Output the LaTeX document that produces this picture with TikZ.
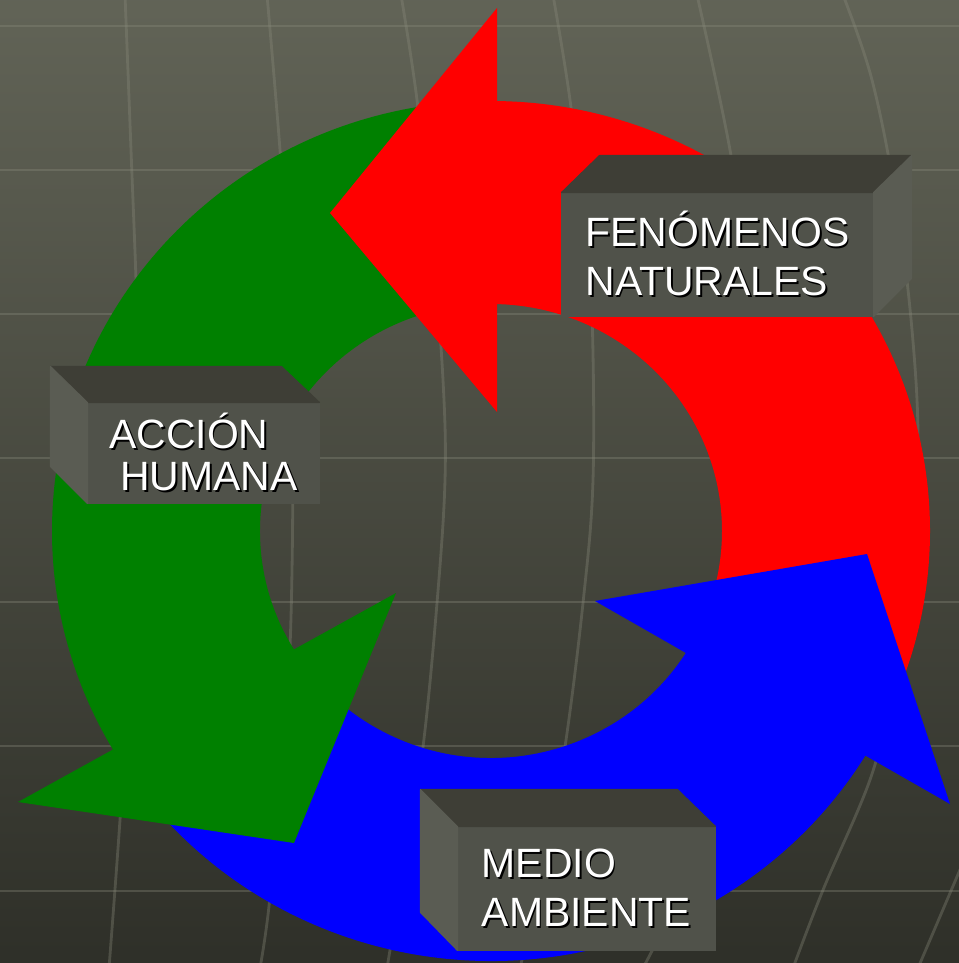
\documentclass[tikz,border=0pt]{standalone}
\usepackage{fontspec}
\setmainfont{Liberation Sans}
\usepackage{tikz}
\usetikzlibrary{shapes,positioning}
\definecolor{bg-top}{HTML}{626457}
\definecolor{bg-bottom}{HTML}{2E2F28}
\definecolor{grid-line}{HTML}{8A8B7C}
\definecolor{arrow-green}{HTML}{008000}
\definecolor{box-top}{HTML}{3E3E36}
\definecolor{box-front}{HTML}{50524A}
\definecolor{box-side}{HTML}{5A5C53}
\newcommand{\shd}[1]{\rlap{\kern1pt\raisebox{-1pt}{\color{black}#1}}#1}

\begin{document}
\begin{tikzpicture}[x=0.02cm, y=-0.02cm,
  gridline/.style={grid-line, opacity=0.35, line width=1.6pt},
  boxfront/.style={fill=box-front, draw=box-front, line width=0.6pt, text=white, align=left,
    inner sep=0pt, font=\fontsize{23.3}{27.9}\selectfont},
  boxface/.style={fill=#1, draw=#1, line width=0.6pt, line join=round}]
% background and grid
\useasboundingbox (0,0) rectangle (959,963);
\shade[top color=bg-top, bottom color=bg-bottom] (-10,-10) rectangle (969,973);
\foreach \y in {26,170,314,458,602,746,891}
  \draw[gridline] (-5,\y) -- (964,\y);
\draw[gridline] plot [smooth, tension=0.6] coordinates {(125,-5) (131,150) (137,313) (139,460) (133,620) (120,820) (109,968)};
\draw[gridline] plot [smooth, tension=0.6] coordinates {(267,-5) (280,150) (291,313) (293,460) (290,647) (280,780) (269,906) (260,968)};
\draw[gridline] plot [smooth, tension=0.6] coordinates {(401,-5) (417,100) (433,250) (443,380) (445,480) (437,603) (423,747) (405,860) (387,968)};
\draw[gridline] plot [smooth, tension=0.6] coordinates {(553,-5) (570,100) (585,230) (592,313) (593,480) (583,603) (565,747) (545,860) (520,968)};
\draw[gridline] plot [smooth, tension=0.6] coordinates {(697,-5) (730,150) (752,300) (760,450) (752,600) (730,740) (695,850) (667,920) (643,968)};
\draw[gridline] plot [smooth, tension=0.6] coordinates {(843,-5) (872,80) (896,200) (912,330) (918,450) (910,580) (893,680) (872,774) (823,890) (793,968)};
\draw[gridline] (965,858) -- (918,968);

% arrow bodies
\begin{scope}[shift={(491,531)}]
\fill[red] (25:439 and 430) arc[start angle=25, end angle=-90, x radius=439, y radius=430]
  -- (-90:231 and 227) arc[start angle=-90, end angle=25, x radius=231, y radius=227] -- cycle;
\fill[arrow-green] (-90:439 and 430) arc[start angle=-90, end angle=-213, x radius=439, y radius=430]
  -- (-213:231 and 227) arc[start angle=-213, end angle=-90, x radius=231, y radius=227] -- cycle;
\fill[blue] (145:439 and 430) arc[start angle=145, end angle=29, x radius=439, y radius=430]
  -- (29:231 and 227) arc[start angle=29, end angle=145, x radius=231, y radius=227] -- cycle;
\end{scope}

% arrow heads
\fill[red] (497,8) -- (330,213) -- (497,412) -- cycle;
\fill[arrow-green] (18,802) -- (294,843) -- (396,593) -- cycle;
\fill[blue] (595,601) -- (867,554) -- (950,804) -- cycle;

% boxes
\node[boxfront, minimum width=311*0.02cm, minimum height=123*0.02cm] (fen) at (717.5,254.5)
  {\shd{FENÓMENOS}\\\shd{NATURALES}};
\filldraw[boxface=box-top] (fen.north west) -- ++(38,-37) -- ++(311,0) -- (fen.north east) -- cycle;
\filldraw[boxface=box-side] (fen.north east) -- ++(38,-37) -- ++(0,123) -- (fen.south east) -- cycle;

\node[boxfront, minimum width=231*0.02cm, minimum height=100*0.02cm,
  font=\fontsize{23.3}{23.8}\selectfont] (acc) at (203.5,453)
  {\shd{ACCIÓN}\\\hspace*{0.22cm}\shd{HUMANA}};
\filldraw[boxface=box-top] (acc.north west) -- ++(-37,-36) -- ++(231,0) -- (acc.north east) -- cycle;
\filldraw[boxface=box-side] (acc.north west) -- ++(-37,-36) -- ++(0,100) -- (acc.south west) -- cycle;

\node[boxfront, minimum width=257*0.02cm, minimum height=123*0.02cm] (med) at (586.5,888.5)
  {\shd{MEDIO}\\\shd{AMBIENTE}};
\filldraw[boxface=box-top] (med.north west) -- ++(-37,-37) -- ++(257,0) -- (med.north east) -- cycle;
\filldraw[boxface=box-side] (med.north west) -- ++(-37,-37) -- ++(0,123) -- (med.south west) -- cycle;
\end{tikzpicture}
\end{document}
